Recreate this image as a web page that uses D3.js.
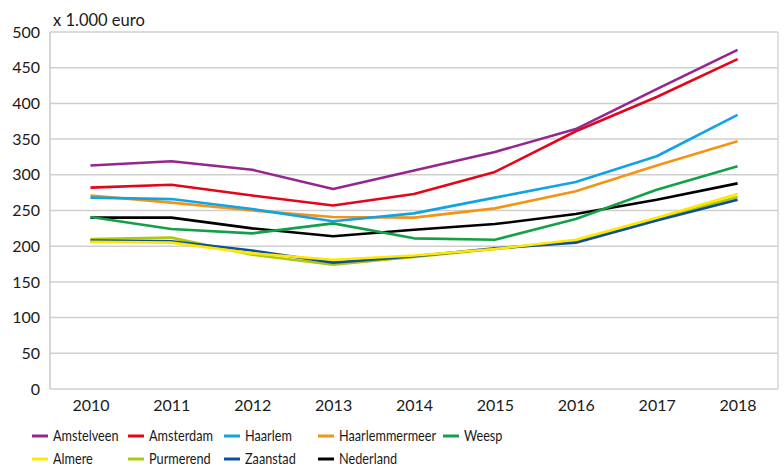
<!DOCTYPE html>
<html>
<head>
<meta charset="utf-8">
<script src="https://cdn.jsdelivr.net/npm/d3@7"></script>
<style>
  body { margin: 0; background: #fff; }
  svg { font-family: Lato, "Noto Sans", sans-serif; }
</style>
</head>
<body>
<div id="chart"></div>
<script>
// data
const years = ["2010", "2011", "2012", "2013", "2014", "2015", "2016", "2017", "2018"];
const yTicks = [0, 50, 100, 150, 200, 250, 300, 350, 400, 450, 500];

const amstelveen     = [313, 319, 307, 280, 306, 332, 364, 420, 475];
const amsterdam      = [282, 286, 271, 257, 273, 304, 361, 409, 462];
const haarlem        = [268, 266, 252, 235, 246, 268, 290, 326, 384];
const haarlemmermeer = [271, 261, 250, 241, 240, 253, 277, 313, 347];
const weesp          = [241, 224, 218, 232, 211, 209, 238, 279, 312];
const almere         = [206, 205, 190, 181, 187, 196, 209, 240, 273];
const purmerend      = [210, 212, 188, 174, 185, 196, 207, 238, 269];
const zaanstad       = [208, 207, 194, 177, 186, 197, 205, 236, 265];
const nederland      = [240, 240, 225, 214, 223, 231, 245, 265, 288];

const series = [
    {name: "Amstelveen", values: amstelveen, color: "#95268e"},
    {name: "Amsterdam", values: amsterdam, color: "#e3061a"},
    {name: "Haarlem", values: haarlem, color: "#12a3e3"},
    {name: "Haarlemmermeer", values: haarlemmermeer, color: "#f39414"},
    {name: "Weesp", values: weesp, color: "#14a048"},
    {name: "Almere", values: almere, color: "#ffe800"},
    {name: "Purmerend", values: purmerend, color: "#afc80c"},
    {name: "Zaanstad", values: zaanstad, color: "#0c4f9c"},
    {name: "Nederland", values: nederland, color: "#000000"}
];

const width = 784, height = 467;
const margin = {top: 32, right: 6, bottom: 78, left: 50};

const svg = d3.select("#chart").append("svg")
    .attr("width", width)
    .attr("height", height);

const x = d3.scalePoint()
    .domain(years)
    .range([margin.left, width - margin.right])
    .padding(0.5);

const y = d3.scaleLinear()
    .domain([0, 500])
    .range([height - margin.bottom, margin.top]);

// gridlines
svg.append("g")
    .selectAll("line")
    .data(yTicks)
    .enter().append("line")
    .attr("x1", margin.left)
    .attr("x2", width - margin.right)
    .attr("y1", d => y(d))
    .attr("y2", d => y(d))
    .attr("stroke", "#cfcfcf")
    .attr("stroke-width", 1.5);

// left and right borders of plot
svg.append("line")
    .attr("x1", margin.left).attr("x2", margin.left)
    .attr("y1", y(500)).attr("y2", y(0))
    .attr("stroke", "#c8c8c8").attr("stroke-width", 1.5);
svg.append("line")
    .attr("x1", width - margin.right).attr("x2", width - margin.right)
    .attr("y1", y(500)).attr("y2", y(0))
    .attr("stroke", "#d6d6d6").attr("stroke-width", 1.5);

// y axis
const yAxis = svg.append("g")
    .attr("transform", `translate(${margin.left},0)`)
    .call(d3.axisLeft(y).tickValues(yTicks).tickSize(0).tickPadding(10));
yAxis.select(".domain").remove();
yAxis.selectAll("text")
    .attr("font-family", "Lato, 'Noto Sans', sans-serif")
    .attr("font-size", 16)
    .attr("fill", "#1a1a1a");

// x axis
const xAxis = svg.append("g")
    .attr("transform", `translate(0,${y(0)})`)
    .call(d3.axisBottom(x).tickSize(0).tickPadding(11));
xAxis.select(".domain").remove();
xAxis.selectAll("text")
    .attr("font-family", "Lato, 'Noto Sans', sans-serif")
    .attr("font-size", 16)
    .attr("fill", "#1a1a1a");

svg.append("text")
    .attr("x", 53)
    .attr("y", 26)
    .attr("font-size", 16.5)
    .attr("fill", "#1a1a1a")
    .text("x 1.000 euro");

// lines
const line = d3.line()
    .x((d, i) => x(years[i]))
    .y(d => y(d));

const drawOrder = ["Nederland", "Weesp", "Haarlemmermeer", "Haarlem", "Purmerend", "Zaanstad", "Almere", "Amsterdam", "Amstelveen"];

svg.append("g")
    .selectAll("path")
    .data(drawOrder.map(n => series.find(s => s.name === n)))
    .enter().append("path")
    .attr("d", d => line(d.values))
    .attr("fill", "none")
    .attr("stroke", d => d.color)
    .attr("stroke-width", 2.6)
    .attr("stroke-linejoin", "round");

// legend
const legendCols = [32, 128, 224, 318, 443];
const legendRows = [436, 459];

const legend = svg.append("g")
    .selectAll("g")
    .data(series)
    .enter().append("g")
    .attr("transform", (d, i) => {
        const row = i < 5 ? 0 : 1;
        const col = i < 5 ? i : i - 5;
        return `translate(${legendCols[col]},${legendRows[row]})`;
    });

legend.append("line")
    .attr("x1", 0).attr("x2", 16)
    .attr("stroke", d => d.color)
    .attr("stroke-width", 3);

// legend font in the original is a narrow face, squeeze it a bit
legend.append("text")
    .attr("transform", "translate(21,0) scale(0.82,1)")
    .attr("dy", "0.35em")
    .attr("font-size", 15.5)
    .attr("fill", "#1a1a1a")
    .text(d => d.name);
</script>
</body>
</html>
